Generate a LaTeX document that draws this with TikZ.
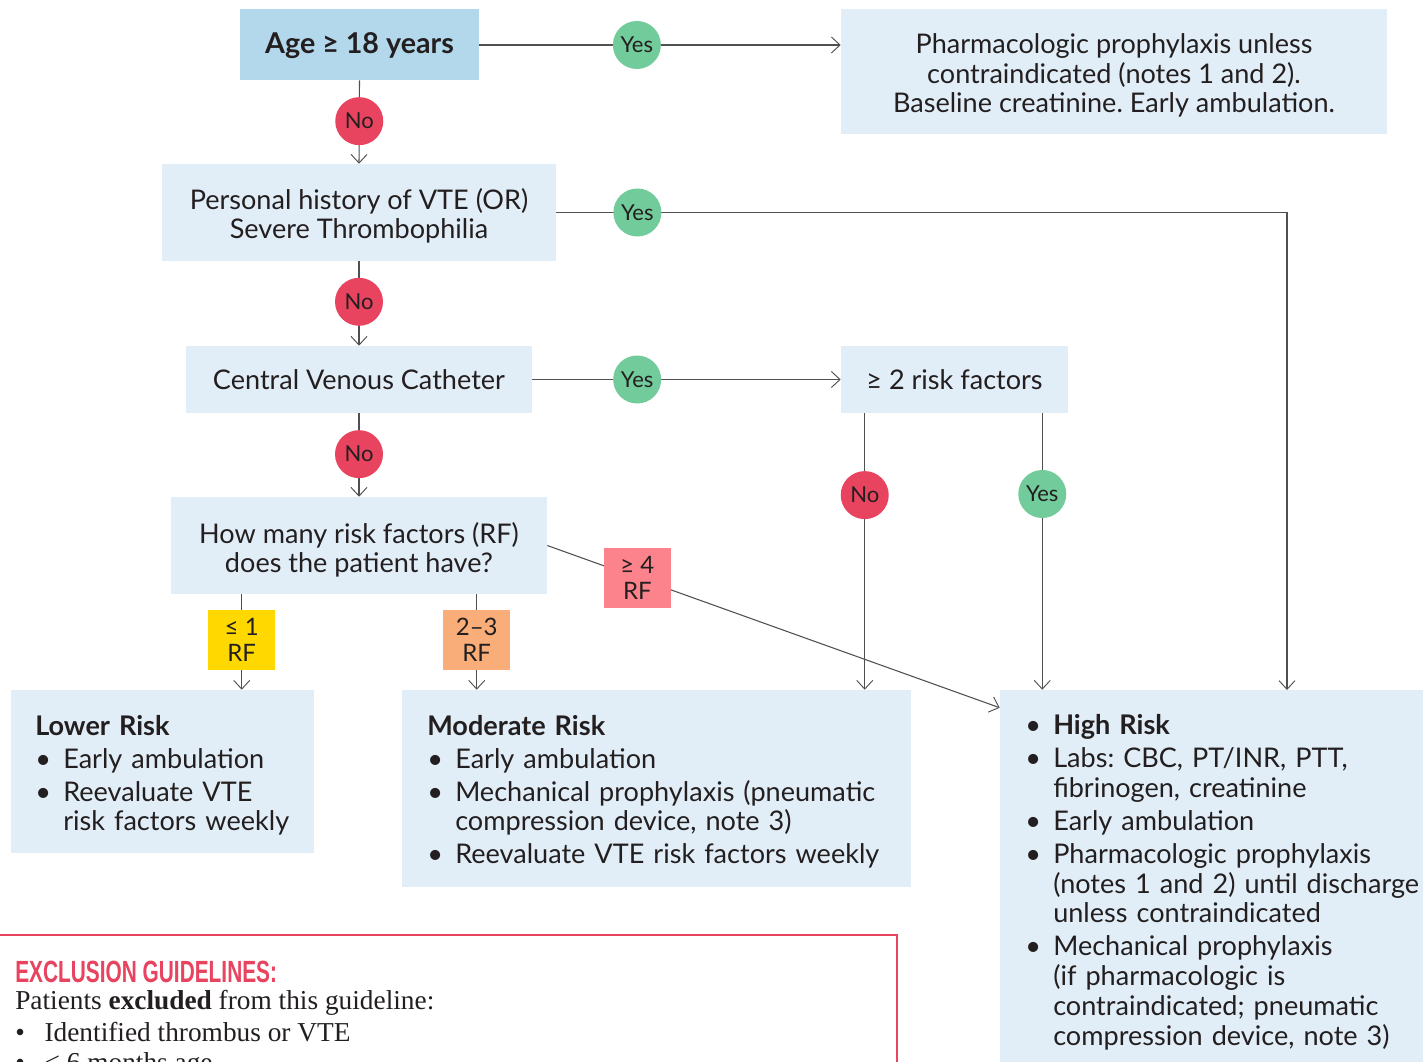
\documentclass[tikz,border=0pt]{standalone}
\usepackage{fontspec}
\usepackage{graphicx}
\setmainfont{Lato}
\newfontfamily\serifx{Liberation Serif}
\newfontfamily\headx{Liberation Sans}
\usetikzlibrary{arrows.meta,fit}
\frenchspacing
\hyphenpenalty=10000
\definecolor{boxc}{HTML}{E2EEF7}
\definecolor{agec}{HTML}{B4D8EB}
\definecolor{noc}{HTML}{E8435F}
\definecolor{yesc}{HTML}{72CB9A}
\definecolor{rfa}{HTML}{FFD800}
\definecolor{rfb}{HTML}{F9AD78}
\definecolor{rfc}{HTML}{FC838B}
\definecolor{txtc}{HTML}{231F20}
\definecolor{linec}{HTML}{505050}
\definecolor{exred}{HTML}{E8435F}
\newcommand{\bul}{\par\hangindent=21pt\hangafter=1\noindent\makebox[21pt][l]{\textbullet}}
\newcommand{\bulfirst}{\hangindent=21pt\hangafter=1\makebox[21pt][l]{\textbullet}}
\newcommand{\listfont}{\fontsize{20.3}{22.3}\selectfont\setlength{\parskip}{2.4pt}\frenchspacing}
\tikzset{
  box/.style={fill=boxc, inner sep=0pt},
  boxtext/.style={inner sep=0pt, text=txtc, align=center,
    font={\fontsize{20.3}{22}\selectfont\frenchspacing}},
  listtxt/.style={inner sep=0pt, text=txtc, align=left, font=\listfont},
  yesnode/.style={circle, fill=yesc, minimum size=36pt, inner sep=0pt, text=txtc,
    font=\fontsize{16.5}{16.5}\selectfont},
  nonode/.style={circle, fill=noc, minimum size=36pt, inner sep=0pt, text=txtc,
    font=\fontsize{16.5}{16.5}\selectfont},
  rflabel/.style={minimum width=50.25pt, minimum height=45pt, inner sep=0pt, text=txtc,
    align=center, font=\fontsize{18}{19.5}\selectfont},
  conn/.style={draw=linec, line width=0.8pt},
  arr/.style={conn, -{Straight Barb[length=6.5pt,width=12pt,line width=0.7pt]}},
}
\begin{document}
\begin{tikzpicture}[x=0.75pt,y=-0.75pt]
\clip (0,0) rectangle (1423,1062);
\fill[white] (0,0) rectangle (1423,1062);

% boxes
\node[box, fill=agec, fit={(240,9) (479,80)}] (age) {};
\node[boxtext, font=\fontsize{21.5}{22}\selectfont\bfseries, yshift=-1pt] (agetxt) at (age.center) {Age ≥ 18 years};
\node[box, fit={(841,9) (1387,134)}] (pharm) {};
\node[boxtext, yshift=-3pt] (pharmtxt) at (pharm.center) {Pharmacologic prophylaxis unless\\contraindicated (notes 1 and 2).\\Baseline creatinine. Early ambulation.};
\node[box, fit={(162,164) (556,261)}] (pers) {};
\node[boxtext, yshift=-2.5pt] (perstxt) at (pers.center) {Personal history of VTE (OR)\\Severe Thrombophilia};
\node[box, fit={(186,346) (532,413)}] (cvc) {};
\node[boxtext] (cvctxt) at (cvc.center) {Central Venous Catheter};
\node[box, fit={(841,346) (1068,413)}] (rf2) {};
\node[boxtext] (rf2txt) at (rf2.center) {≥ 2 risk factors};
\node[box, fit={(171,497) (547,594)}] (q) {};
\node[boxtext, yshift=-3pt] (qtxt) at (q.center) {How many risk factors (RF)\\does the patient have?};
\node[box, fit={(11,690) (314,853)}] (low) {};
\node[box, fit={(402,690) (911,887)}] (mod) {};
\node[box, fit={(1000,690) (1423,1070)}] (high) {};

% list texts
\node[listtxt, text width=260pt, anchor=north west] (lowtxt) at (35,715) {%
\noindent\textbf{Lower Risk}
\bul Early ambulation
\bul Reevaluate VTE\newline risk factors weekly\par};
\node[listtxt, text width=480pt, anchor=north west] (modtxt) at (427,715) {%
\noindent\textbf{Moderate Risk}
\bul Early ambulation
\bul Mechanical prophylaxis (pneumatic\newline compression device, note 3)
\bul Reevaluate VTE risk factors weekly\par};
\node[listtxt, text width=330pt, anchor=north west] (hightxt) at (1025,714.5) {%
\bulfirst \textbf{High Risk}
\bul Labs: CBC, PT/INR, PTT,\newline fibrinogen, creatinine
\bul Early ambulation
\bul Pharmacologic prophylaxis\newline (notes 1 and 2) until discharge\newline unless contraindicated
\bul Mechanical prophylaxis\newline (if pharmacologic is\newline contraindicated; pneumatic\newline compression device, note 3)\par};

% connectors
\draw[arr] (age.east |- 0,45) -- node[yesnode, pos=0.436] (y1) {Yes} (pharm.west |- 0,45);
\draw[arr] (age.south) -- node[nonode, pos=0.49] (n1) {No} (pers.north);
\coordinate (hiA) at (1287,690);
\draw[arr] (pers.east) -- node[yesnode, pos=0.111] (y2) {Yes} (pers.east -| hiA) -- (hiA);
\draw[arr] (pers.south) -- node[nonode, pos=0.48] (n2) {No} (cvc.north);
\draw[arr] (cvc.east) -- node[yesnode, pos=0.34] (y3) {Yes} (rf2.west);
\draw[arr] (cvc.south) -- node[nonode, pos=0.49] (n3) {No} (q.north);
\coordinate (s7) at ([xshift=18pt]rf2.south west);
\coordinate (s8) at ([xshift=-19.5pt]rf2.south east);
\draw[arr] (s7) -- node[nonode, pos=0.296] (n4) {No} (s7 |- mod.north);
\draw[arr] (s8) -- node[yesnode, pos=0.292] (y4) {Yes} (s8 |- high.north);
\coordinate (s9) at ([xshift=53.25pt]q.south west);
\coordinate (s10) at ([xshift=229.5pt]q.south west);
\draw[arr] (s9) -- node[rflabel, fill=rfa, pos=0.48] (l1) {≤ 1\\RF} (s9 |- low.north);
\draw[arr] (s10) -- node[rflabel, fill=rfb, pos=0.48] (l2) {2–3\\RF} (s10 |- mod.north);
\draw[arr] (q.east) -- node[rflabel, fill=rfc, pos=0.199] (l3) {≥ 4\\RF} ([yshift=-13.5pt]high.north west);

% exclusion box
\draw[draw=exred, line width=1.1pt] (-5,1075) -- (-5,935) -- (897,935) -- (897,1075);
\node[anchor=base west, inner sep=0pt, text=exred, font=\headx\bfseries\fontsize{23}{23}\selectfont] (exh) at (15,982) {\scalebox{0.68}[1]{EXCLUSION GUIDELINES:}};
\node[anchor=base west, inner sep=0pt, text=txtc, font=\serifx\fontsize{20.5}{20}\selectfont] (ex1) at (15,1009) {Patients \textbf{excluded} from this guideline:};
\node[anchor=base west, inner sep=0pt, text=txtc, font=\serifx\fontsize{20.5}{20}\selectfont] (ex2) at (15,1041) {\makebox[22pt][l]{•}Identified thrombus or VTE};
\node[anchor=base west, inner sep=0pt, text=txtc, font=\serifx\fontsize{20.5}{20}\selectfont] (ex3) at (15,1071) {\makebox[22pt][l]{•}< 6 months age};
\end{tikzpicture}
\end{document}
